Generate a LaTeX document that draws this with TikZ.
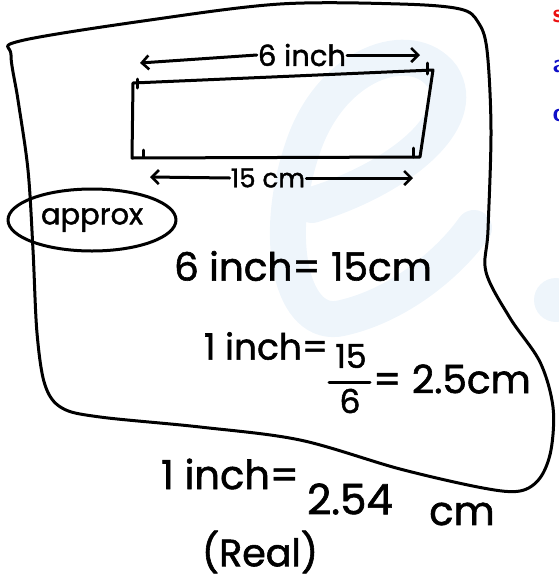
\documentclass[tikz,border=0pt]{standalone}
\usepackage{fontspec}
\setmainfont{Poppins}
\newfontfamily\handfont{Poppins}[FakeBold=1.5]
\usetikzlibrary{arrows.meta,shapes.geometric}

\definecolor{wmblue}{RGB}{238,245,251}
\definecolor{tagred}{RGB}{235,15,15}
\definecolor{tagblue}{RGB}{15,15,200}

\begin{document}
\begin{tikzpicture}[x=1pt,y=-1pt,
  pen/.style={line width=3pt,line cap=round,line join=round},
  hand/.style={inner sep=1pt,font=\fontsize{#1}{#1}\selectfont\handfont},
  tag/.style={anchor=west,font=\fontsize{26}{26}\selectfont\bfseries\sffamily},
  barb/.style={pen,-{Straight Barb[length=7pt,width=14pt,line width=2.6pt]}}]

\useasboundingbox (0,0) rectangle (559,582);
\clip (0,0) rectangle (559,582);

%% 透かし
\draw[wmblue,line width=36pt,line cap=round] (312,205) .. controls (400,178) and (470,120) .. (442,76) .. controls (412,36) and (330,62) .. (302,150) .. controls (272,240) and (292,330) .. (342,318) .. controls (400,305) and (450,262) .. (474,228);
\fill[wmblue] (556,300) ellipse (22pt and 22pt);

%% 右上の文字
\node[tag,text=tagred] (tags) at (549,16) {s};
\node[tag,text=tagblue] (taga) at (549,66) {a};
\node[tag,text=tagblue] (tagc) at (549,115) {c};

%% 外枠
\draw[pen] plot[smooth cycle,tension=0.55] coordinates {(20,41) (150,20) (280,4) (400,4) (460,9) (478,22) (487,50) (491,130) (488,230) (486,272) (510,318) (540,362) (553,407) (551,450) (540,478) (520,491) (483,488) (400,469) (300,440) (200,427) (100,417) (62,408) (45,385) (37,333) (33,250) (28,170) (18,100) (11,55)};

%% 長方形
\coordinate (rA) at (133,83);
\coordinate (rB) at (433,70);
\coordinate (rC) at (420,157);
\coordinate (rD) at (132,158);
\draw[pen] (rA) -- (rB) -- (rC) -- (rD) -- cycle;
% 目盛り
\draw[pen] (137,79) -- (137,88);
\draw[pen] (427,63) -- (427,74);
\draw[pen] (143,150) -- (143,157);
\draw[pen] (413,148) -- (413,157);

%% 寸法
\node[hand=29] (sixin) at (302,55) {6 inch};
\coordinate (sixL) at (140,63);
\coordinate (sixR) at (420,55);
\draw[barb] (sixin.west) -- (sixL);
\draw[barb] (sixin.east) -- (sixR);

\node[hand=26] (fifcm) at (268,178) {15 cm};
\coordinate (fifL) at (150,177);
\coordinate (fifR) at (413,178);
\draw[barb] (fifcm.west) -- (fifL);
\draw[barb] (fifcm.east) -- (fifR);

%% approx
\node[hand=29,draw,pen,ellipse,minimum width=168pt,minimum height=62pt] (approx) at (92,220) {approx};

%% 式
\node[hand=39] (eqA) at (303,266) {6 inch= 15cm};
\node[hand=36] (eqB) at (266,346) {1 inch=};
\node[hand=33] (num) at (351,356) {15};
\draw[pen] (329,382) -- (370,382);
\node[hand=33] (den) at (350,401) {6};
\node[hand=39] (eqC) at (452,379) {= 2.5cm};
\node[hand=40] (eqD) at (230,474) {1 inch=};
\node[hand=42] (eqE) at (350,499) {2.54};
\node[hand=40] (eqF) at (462,514) {cm};
\node[hand=38] (real) at (260,552) {(Real)};

\end{tikzpicture}
\end{document}
